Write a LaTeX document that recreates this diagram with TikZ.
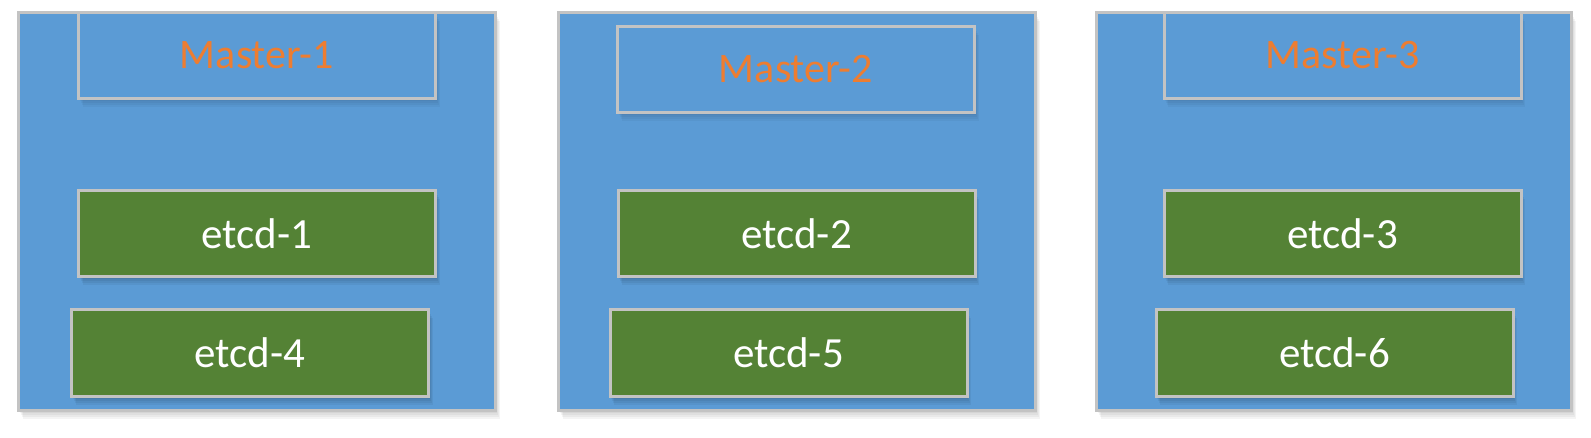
\documentclass[tikz,border=0pt]{standalone}
\usepackage{fontspec}
\setmainfont{Carlito}
\usetikzlibrary{shadows}
\definecolor{panelblue}{HTML}{5B9BD5}
\definecolor{etcdgreen}{HTML}{548235}
\definecolor{edgegrey}{HTML}{C3C3C3}
\definecolor{masterorange}{HTML}{ED7D31}
\tikzset{
  softshadow/.style={
    drop shadow={shadow xshift=1pt, shadow yshift=-2pt, opacity=#1, fill=black},
    drop shadow={shadow xshift=2pt, shadow yshift=-4pt, opacity=#1, fill=black},
    drop shadow={shadow xshift=3pt, shadow yshift=-6pt, opacity=#1, fill=black},
    drop shadow={shadow xshift=4pt, shadow yshift=-8pt, opacity=#1, fill=black}},
  panel/.style={draw=edgegrey, line width=3pt, fill=panelblue, rectangle, inner sep=0pt,
    softshadow=0.045},
  masterbox/.style={draw=edgegrey, line width=3pt, fill=panelblue, rectangle, inner sep=0pt,
    minimum width=357pt, minimum height=86pt,
    font=\fontsize{42}{50}\selectfont, text=masterorange, softshadow=0.035},
  etcdbox/.style={draw=edgegrey, line width=3pt, fill=etcdgreen, rectangle, inner sep=0pt,
    minimum width=357pt, minimum height=86pt,
    font=\fontsize{43}{50}\selectfont, text=white, softshadow=0.05}
}
\begin{document}
\begin{tikzpicture}[x=1pt, y=-1pt]
\useasboundingbox (0,0) rectangle (1591,437);
% panels
\node[panel, minimum width=477pt, minimum height=398pt] (p1) at (257,211.5) {};
\node[panel, minimum width=477pt, minimum height=398pt] (p2) at (797,211.5) {};
\node[panel, minimum width=475pt, minimum height=398pt] (p3) at (1334,211.5) {};
% master boxes
\node[masterbox] (m1) at (257,55.5) {Master-1};
\node[masterbox] (m2) at (796,69.5) {Master-2};
\node[masterbox] (m3) at (1342.5,55.5) {Master-3};
% etcd boxes
\node[etcdbox] (e1) at (257,233.5) {etcd-1};
\node[etcdbox] (e2) at (796.5,233.5) {etcd-2};
\node[etcdbox] (e3) at (1342.5,233.5) {etcd-3};
\node[etcdbox, minimum height=87pt] (e4) at (250,353) {etcd-4};
\node[etcdbox, minimum height=87pt] (e5) at (788.5,353) {etcd-5};
\node[etcdbox, minimum height=87pt] (e6) at (1334.5,353) {etcd-6};
\end{tikzpicture}
\end{document}
